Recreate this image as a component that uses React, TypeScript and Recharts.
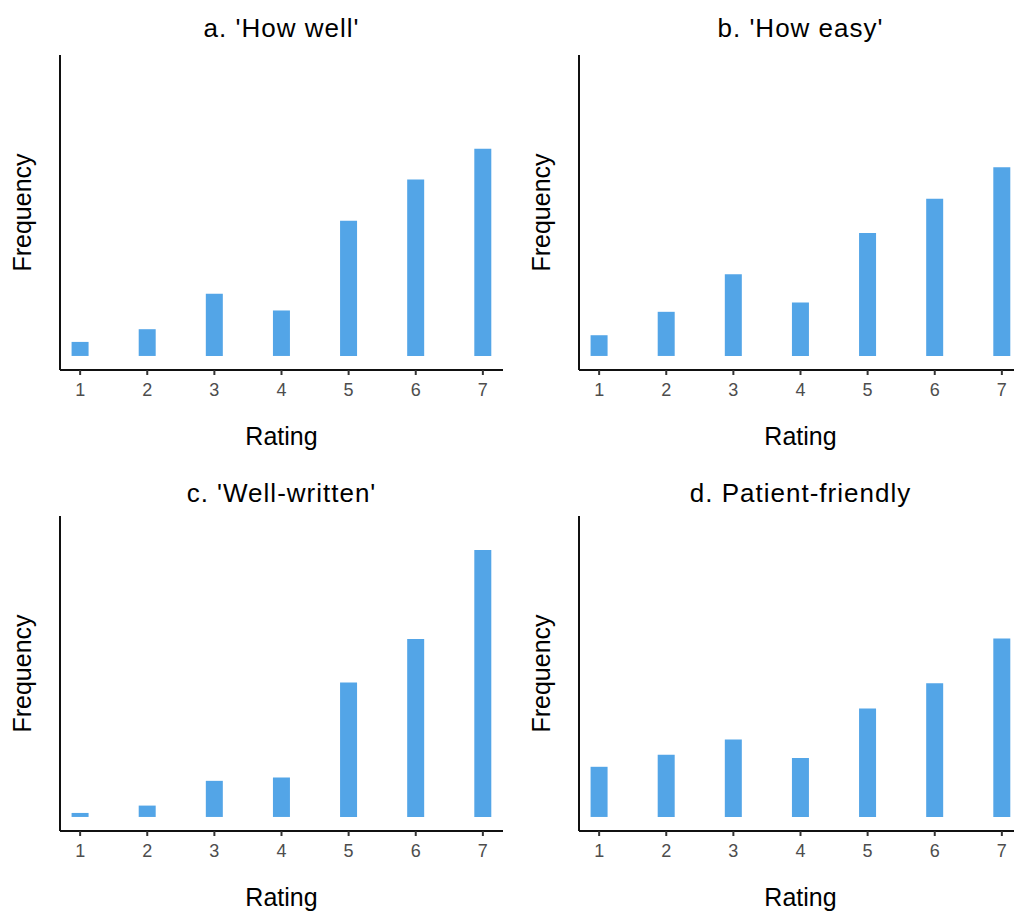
import React from 'react';
import { BarChart, Bar, XAxis, YAxis } from 'recharts';

const ratings = [1, 2, 3, 4, 5, 6, 7];
const xTicks = [1, 2, 3, 4, 5, 6, 7];
// percentage of responses per rating
const howWell = [2.1, 4.0, 9.3, 6.8, 20.2, 26.4, 31.0];
const howEasy = [3.1, 6.6, 12.2, 8.0, 18.4, 23.5, 28.2];
const wellWritten = [0.6, 1.7, 5.4, 5.9, 20.1, 26.6, 39.9];
const patientFriendly = [7.5, 9.3, 11.6, 8.8, 16.2, 20.0, 26.7];
const titles = ["a. 'How well'", "b. 'How easy'", "c. 'Well-written'", "d. Patient-friendly"];
const xLabel = 'Rating';
const yLabel = 'Frequency';

const FONT = '"Liberation Sans", Arial, sans-serif';
const BAR = '#53A5E7';
const Y_W = 60;
const PLOT_W = 443;
const CH_H = 460;

type PanelProps = { left: number; top: number; title: string; values: number[]; titleY: number };

function Panel({ left, top, title, values, titleY }: PanelProps) {
  const data = ratings.map((r, i) => ({ rating: r, value: values[i] }));
  const cx = Y_W + PLOT_W / 2;
  return (
    <div style={{ position: 'absolute', left, top, width: Y_W + PLOT_W, height: CH_H }}>
      <BarChart
        width={Y_W + PLOT_W}
        height={CH_H}
        data={data}
        margin={{ top: 55, right: 0, bottom: 0, left: 0 }}
      >
        <XAxis
          dataKey="rating"
          type="number"
          domain={[0.7, 7.3]}
          ticks={xTicks}
          interval={0}
          height={90}
          tickSize={5}
          tickMargin={8}
          axisLine={{ stroke: '#111', strokeWidth: 2 }}
          tickLine={{ stroke: '#333', strokeWidth: 2 }}
          tick={{ fontSize: 18, fill: '#4D4D4D', fontFamily: FONT }}
          label={() => (
            <text x={cx} y={445} textAnchor="middle" fontSize={25} fontFamily={FONT} fill="#000">
              {xLabel}
            </text>
          )}
        />
        <YAxis
          type="number"
          domain={[-2.1, 45]}
          width={Y_W}
          tick={false}
          tickLine={false}
          axisLine={{ stroke: '#111', strokeWidth: 2 }}
          label={() => (
            <g>
              <text
                transform={`translate(31, 212.5) rotate(-90)`}
                textAnchor="middle"
                fontSize={25}
                fontFamily={FONT}
                fill="#000"
              >
                {yLabel}
              </text>
              <text
                x={cx}
                y={titleY}
                textAnchor="middle"
                fontSize={26}
                letterSpacing={1}
                fontFamily={FONT}
                fill="#000"
              >
                {title}
              </text>
            </g>
          )}
        />
        <Bar dataKey="value" fill={BAR} barSize={17} isAnimationActive={false} />
      </BarChart>
    </div>
  );
}

export default function App() {
  return (
    <div style={{ position: 'fixed', left: 0, top: 0, width: 1014, height: 914, overflow: 'hidden', background: '#fff' }}>
      <Panel left={0} top={0} title={titles[0]} values={howWell} titleY={37} />
      <Panel left={519} top={0} title={titles[1]} values={howEasy} titleY={37} />
      <Panel left={0} top={461} title={titles[2]} values={wellWritten} titleY={41} />
      <Panel left={519} top={461} title={titles[3]} values={patientFriendly} titleY={41} />
    </div>
  );
}
